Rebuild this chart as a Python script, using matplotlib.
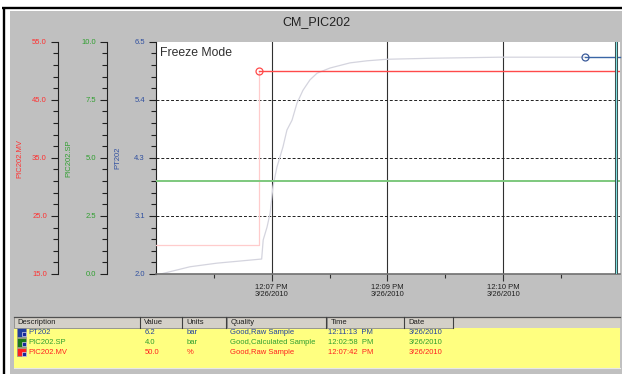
import matplotlib
matplotlib.use("Agg")
import matplotlib.pyplot as plt
from matplotlib.patches import Rectangle
from matplotlib.ticker import AutoMinorLocator, FixedLocator

plt.rcParams['font.family'] = ['Liberation Sans', 'DejaVu Sans']

# ---------------- data ----------------
title = "CM_PIC202"
# time in seconds after 12:00:00 PM
time_ticks = [470, 545, 620]
time_labels = ["12:07 PM\n3/26/2010", "12:09 PM\n3/26/2010", "12:10 PM\n3/26/2010"]
time_minor = [432.5, 507.5, 582.5, 657.5]
x_range = [395, 695.5]
now_time = 693.3

# PT202 history (bar)
pt_t = [398, 417, 434.5, 463.5, 464.5, 467, 469, 470.8, 473.4, 475.4, 477.3, 479.9,
        483.2, 486.4, 490.3, 494.8, 499.4, 507.8, 520.8, 531.8, 544.8, 574.6, 618, 673]
pt_v = [2.0, 2.14, 2.21, 2.29, 2.66, 2.91, 3.18, 3.69, 4.07, 4.27, 4.46, 4.79,
        4.98, 5.31, 5.56, 5.76, 5.89, 5.99, 6.09, 6.13, 6.16, 6.18, 6.2, 6.2]
pt_last_t = 673
pt_last_v = 6.2

# PIC202.MV history (%)
mv_hist_t = [395, 462, 462]
mv_hist_v = [20.0, 20.0, 50.0]
mv_last_t = 462
mv_last_v = 50.0

# PIC202.SP (bar)
sp_v = 4.0

pt_ticks = [2.0, 3.125, 4.25, 5.375, 6.5]
pt_tick_labels = ["2.0", "3.1", "4.3", "5.4", "6.5"]
mv_ticks = [15.0, 25.0, 35.0, 45.0, 55.0]
mv_tick_labels = ["15.0", "25.0", "35.0", "45.0", "55.0"]
sp_ticks = [0.0, 2.5, 5.0, 7.5, 10.0]
sp_tick_labels = ["0.0", "2.5", "5.0", "7.5", "10.0"]

# table
headers = ["Description", "Value", "Units", "Quality", "Time", "Date"]
descs = ["PT202", "PIC202.SP", "PIC202.MV"]
values = ["6.2", "4.0", "50.0"]
units = ["bar", "bar", "%"]
qualities = ["Good,Raw Sample", "Good,Calculated Sample", "Good,Raw Sample"]
times = ["12:11:13  PM", "12:02:58  PM", "12:07:42  PM"]
dates = ["3/26/2010", "3/26/2010", "3/26/2010"]

# ---------------- styling ----------------
W, H = 622, 374
C_MV = '#ff3030'
C_SP = '#2f9f2f'
C_PT = '#3050a0'
row_colors = ['#2040a0', '#2f9f2f', '#ff2020']
icon_colors = ['#1f3f9f', '#1a7a1a', '#ff2020']

fig = plt.figure(figsize=(W / 100, H / 100), dpi=100)
fig.patch.set_facecolor('white')


def fx(x):
    return x / W


def fy(y):
    return 1 - y / H


# background axes in pixel coordinates
bg = fig.add_axes([0, 0, 1, 1], zorder=0)
bg.set_xlim(0, W)
bg.set_ylim(H, 0)
bg.axis('off')
bg.add_patch(Rectangle((10, 11), W - 10, H - 11, fc='#c0c0c0', ec='none'))
bg.plot([2, W], [7.8, 7.8], color='black', lw=1.7, solid_capstyle='butt')
bg.plot([3.5, 3.5], [7, H], color='black', lw=1.7, solid_capstyle='butt')

# table
bg.add_patch(Rectangle((13.5, 317), 606, 11, fc='#d4d0c8', ec='none'))
bg.add_patch(Rectangle((13.5, 328), 606, 40, fc='#ffff80', ec='none'))
bg.plot([13.5, 619.5], [316.6, 316.6], color='#505050', lw=0.9)
bg.plot([13.5, 619.5], [368.3, 368.3], color='#e8e8e8', lw=0.8)
col_edges = [13.5, 140, 182, 226.5, 326.5, 404, 453]
for i, h in enumerate(headers):
    x0, x1 = col_edges[i], col_edges[i + 1]
    bg.add_patch(Rectangle((x0, 317), x1 - x0, 11, fc='#d4d0c8', ec='#8a8a8a', lw=0.6))
    bg.plot([x1 - 0.5, x1 - 0.5], [317, 328], color='#404040', lw=0.8)
    bg.text(x0 + 4, 323, h, fontsize=5.5, color='#202020', ha='left', va='center')

row_y = [332.7, 342.3, 352.0]
for i in range(3):
    y = row_y[i]
    col = row_colors[i]
    bg.add_patch(Rectangle((17, y - 4.3), 8.5, 8.5, fc=icon_colors[i], ec='#909090', lw=0.5))
    bg.add_patch(Rectangle((21.5, y - 0.3), 4, 4, fc='#1a2a9a', ec='white', lw=0.4))
    cells = [descs[i], values[i], units[i], qualities[i], times[i], dates[i]]
    xs = [28.3, 145, 186.7, 230, 328.3, 409]
    for x, t in zip(xs, cells):
        bg.text(x, y, t, fontsize=5.5, color=col, ha='left', va='center')

fig.text(fx(316.5), fy(22), title, fontsize=9, color='#202020', ha='center', va='center')

# main plot axes (PT202)
L, R, T, B = 156, 619.5, 41.7, 274
ax = fig.add_axes([fx(L), fy(B), (R - L) / W, (B - T) / H], zorder=2)
ax.set_facecolor('white')
ax.set_xlim(*x_range)
ax.set_ylim(pt_ticks[0], pt_ticks[-1])

ax.set_xticks(time_ticks, time_labels)
ax.xaxis.set_minor_locator(FixedLocator(time_minor))
ax.tick_params(axis='x', which='major', length=5, width=0.8, color='#303030',
               labelsize=5.5, labelcolor='#202020', pad=2)
ax.tick_params(axis='x', which='minor', length=3, width=0.8, color='#303030')
for lab in ax.get_xticklabels():
    lab.set_linespacing(1.1)
ax.grid(axis='x', which='major', color='#303030', lw=0.8)

ax.set_yticks(pt_ticks, pt_tick_labels)
ax.yaxis.set_minor_locator(AutoMinorLocator(5))
ax.tick_params(axis='y', which='major', length=5, width=0.8, color='#202020',
               labelsize=5.5, labelcolor=C_PT, pad=3)
ax.tick_params(axis='y', which='minor', length=3.5, width=0.8, color='#202020')
for v in pt_ticks[1:-1]:
    ax.axhline(v, color='#202020', lw=0.7, dashes=(3, 2), zorder=1.6)

for s in ['top', 'right']:
    ax.spines[s].set_visible(False)
ax.spines['left'].set_color('#202020')
ax.spines['left'].set_linewidth(0.8)
ax.spines['bottom'].set_color('#707070')
ax.spines['bottom'].set_linewidth(1.2)

ax.plot(pt_t, pt_v, color='#d4d4de', lw=0.9, zorder=2)
ax.plot([pt_last_t, x_range[1]], [pt_last_v, pt_last_v], color='#3a66a6', lw=1.0, zorder=3,
        clip_on=False)
ax.plot([pt_last_t], [pt_last_v], marker='o', ms=5, mfc='none', mec='#3a5a9a', mew=0.9, zorder=4)

ax.text(fx(160), fy(56), "Freeze Mode", transform=fig.transFigure, fontsize=8.8,
        color='#303030', ha='left', va='baseline')


def make_twin(offset_px, lims, ticks, labels, color):
    tw = ax.twinx()
    tw.set_ylim(*lims)
    tw.yaxis.tick_left()
    for s in ['top', 'right', 'bottom']:
        tw.spines[s].set_visible(False)
    tw.spines['left'].set_visible(True)
    tw.spines['left'].set_position(('axes', (offset_px - L) / (R - L)))
    tw.spines['left'].set_color('#202020')
    tw.spines['left'].set_linewidth(0.8)
    tw.set_yticks(ticks, labels)
    tw.yaxis.set_minor_locator(AutoMinorLocator(5))
    tw.tick_params(axis='y', which='major', length=5, width=0.8, color='#202020',
                   labelsize=5.5, labelcolor=color, pad=3)
    tw.tick_params(axis='y', which='minor', length=3.5, width=0.8, color='#202020')
    return tw


mv = make_twin(58, (mv_ticks[0], mv_ticks[-1]), mv_ticks, mv_tick_labels, C_MV)
sp = make_twin(107, (sp_ticks[0], sp_ticks[-1]), sp_ticks, sp_tick_labels, C_SP)

sp.plot(x_range, [sp_v, sp_v], color='#7dc87d', lw=1.4, zorder=2)
mv.plot(mv_hist_t, mv_hist_v, color='#ffcccc', lw=0.9, zorder=2)
mv.plot([mv_last_t, x_range[1]], [mv_last_v, mv_last_v], color='#ff4a4a', lw=1.0, zorder=3)
mv.plot([mv_last_t], [mv_last_v], marker='o', ms=5, mfc='none', mec='#ff4a4a', mew=0.9, zorder=4)

# "now" cursor
sp.axvline(now_time, color='#303030', lw=2.2, zorder=5)
sp.axvline(now_time, color='#7fe0e0', lw=1.0, zorder=6)

# axis titles
fig.text(fx(20), fy(158), "PIC202.MV", rotation=90, fontsize=5.5, color=C_MV, ha='center', va='center')
fig.text(fx(69), fy(158), "PIC202.SP", rotation=90, fontsize=5.5, color=C_SP, ha='center', va='center')
fig.text(fx(118), fy(158), "PT202", rotation=90, fontsize=5.5, color=C_PT, ha='center', va='center')

fig.savefig("out.png", dpi=100)
